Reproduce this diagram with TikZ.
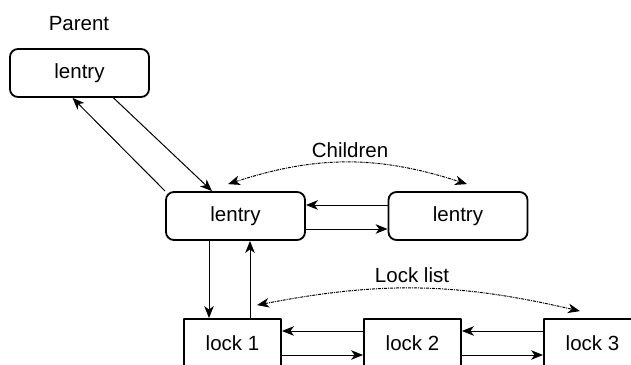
\documentclass[tikz,border=0pt]{standalone}
\usepackage{fontspec}
\setmainfont{Liberation Sans}
\usetikzlibrary{arrows.meta, positioning, calc}

\begin{document}
\begin{tikzpicture}[x=1pt, y=-1pt, >={Stealth[length=12pt, width=9.5pt, inset=3.5pt]}, line join=round,
    every node/.style={font=\fontsize{20.5}{24}\selectfont},
    entrybox/.style={draw, line width=1.8pt, rounded corners=8pt, minimum width=139pt, minimum height=48pt},
    lockbox/.style={draw, line width=1.8pt, minimum width=97pt, minimum height=48pt},
    link/.style={->, line width=1pt},
    ring/.style={<->, line width=1pt, dash pattern=on 3pt off 1pt on 1pt off 1pt}]
      \useasboundingbox (0,0) rectangle (631,364);
      \node (parentlbl) at (79,24) {Parent};
      \node[entrybox] (parent) at (79.5,73) {lentry};
      \node[entrybox] (mid) at (235.5,216) {lentry};
      \node[entrybox] (child) at (458,216) {lentry};
      \node[lockbox] (lockA) at (232.5,343) {lock 1};
      \node[lockbox] (lockB) at (412.5,343) {lock 2};
      \node[lockbox] (lockC) at (592.5,343) {lock 3};
      \node (childlbl) at (350,150) {Children};
      \node (locklbl) at (412,275) {Lock list};
      % parent <-> mid
      \draw[link] ([xshift=34pt]parent.south) -- ([xshift=-23.5pt]mid.north);
      \draw[link] (mid.north west) -- ([xshift=-7pt]parent.south);
      % mid <-> child
      \draw[link] ([yshift=11pt]child.west) -- ([yshift=11pt]mid.east);
      \draw[link] ([yshift=-13pt]mid.east) -- ([yshift=-13pt]child.west);
      % mid <-> lock 1
      \draw[link] ([xshift=-26.5pt]mid.south) -- ([xshift=-26.5pt]mid.south |- lockA.north);
      \draw[link] ([xshift=17.5pt]lockA.north) -- ([xshift=17.5pt]lockA.north |- mid.south);
      % lock chain
      \draw[link] ([yshift=12pt]lockB.west) -- ([yshift=12pt]lockA.east);
      \draw[link] ([yshift=-12pt]lockA.east) -- ([yshift=-12pt]lockB.west);
      \draw[link] ([yshift=12pt]lockC.west) -- ([yshift=12pt]lockB.east);
      \draw[link] ([yshift=-12pt]lockB.east) -- ([yshift=-12pt]lockC.west);
      % dotted arcs
      \draw[ring] ([xshift=-7.5pt, yshift=7pt]mid.north) to[bend left=18] ([xshift=9pt, yshift=7pt]child.north);
      \draw[ring] ([xshift=24.5pt, yshift=13pt]lockA.north) to[bend left=12] ([xshift=-12.5pt, yshift=7pt]lockC.north);
    \end{tikzpicture}
\end{document}
